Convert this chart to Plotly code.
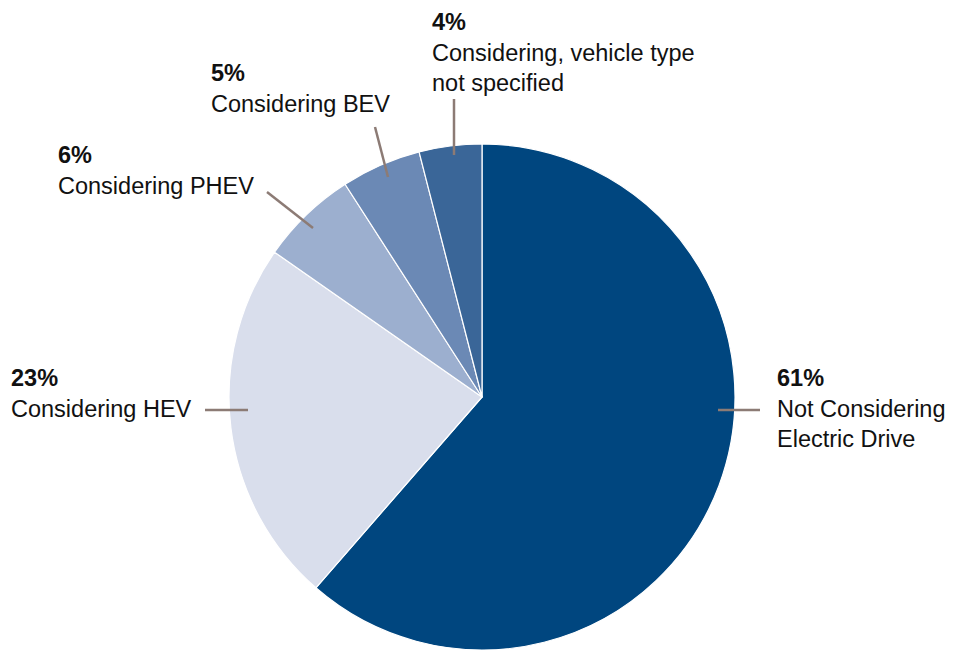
import plotly.graph_objects as go

# slices, clockwise from 12 o'clock
labels = ["Not Considering Electric Drive", "Considering HEV", "Considering PHEV",
          "Considering BEV", "Considering, vehicle type not specified"]
values = [61.4, 23.3, 6.2, 5.1, 4.0]
pct_text = ["61%", "23%", "6%", "5%", "4%"]
label_text = ["Not Considering<br>Electric Drive", "Considering HEV", "Considering PHEV",
              "Considering BEV", "Considering, vehicle type<br>not specified"]
colors = ["#00467F", "#D9DEEC", "#9CAFCF", "#6B89B5", "#3A6698"]

# page has an 8px body margin, so the figure is drawn 8px in from the corner
OFF = 8
W, H = 956 - OFF, 651 - OFF

# label block anchor (left, top) and leader line ends, in page pixels
label_pos = [(776, 364), (10, 364), (57, 141), (210, 59), (431, 8)]
leaders = [((718, 410), (760, 410)), ((205, 410), (248, 410)),
           ((267, 192), (313, 228)), ((375, 127), (388, 177)),
           ((454, 99), (454, 155))]


def px(x, y):
    return (x - OFF) / W, 1 - (y - OFF) / H


pie_x0, pie_y1 = px(229, 144)
pie_x1, pie_y0 = px(735, 650)

fig = go.Figure(go.Pie(
    labels=labels,
    values=values,
    sort=False,
    direction="clockwise",
    rotation=0,
    textinfo="none",
    hoverinfo="label+percent",
    marker=dict(colors=colors, line=dict(color="white", width=1.2)),
    domain=dict(x=[pie_x0, pie_x1], y=[max(pie_y0, 0), pie_y1]),
    showlegend=False,
))

for pct, txt, (lx, ly) in zip(pct_text, label_text, label_pos):
    ax, ay = px(lx, ly)
    fig.add_annotation(
        x=ax, y=ay, xref="paper", yref="paper",
        xanchor="left", yanchor="top", align="left",
        text="<b>" + pct + "</b><br>" + txt,
        showarrow=False, borderpad=0,
        font=dict(family="Liberation Sans, Arial, sans-serif", size=23.5, color="#111111"),
    )

for (p0, p1) in leaders:
    x0, y0 = px(*p0)
    x1, y1 = px(*p1)
    fig.add_shape(type="line", xref="paper", yref="paper",
                  x0=x0, y0=y0, x1=x1, y1=y1,
                  line=dict(color="#8C7B75", width=2.5))

fig.update_layout(
    width=W, height=H,
    margin=dict(l=0, r=0, t=0, b=0),
    paper_bgcolor="white",
    plot_bgcolor="white",
)

fig.write_html("out.html")
